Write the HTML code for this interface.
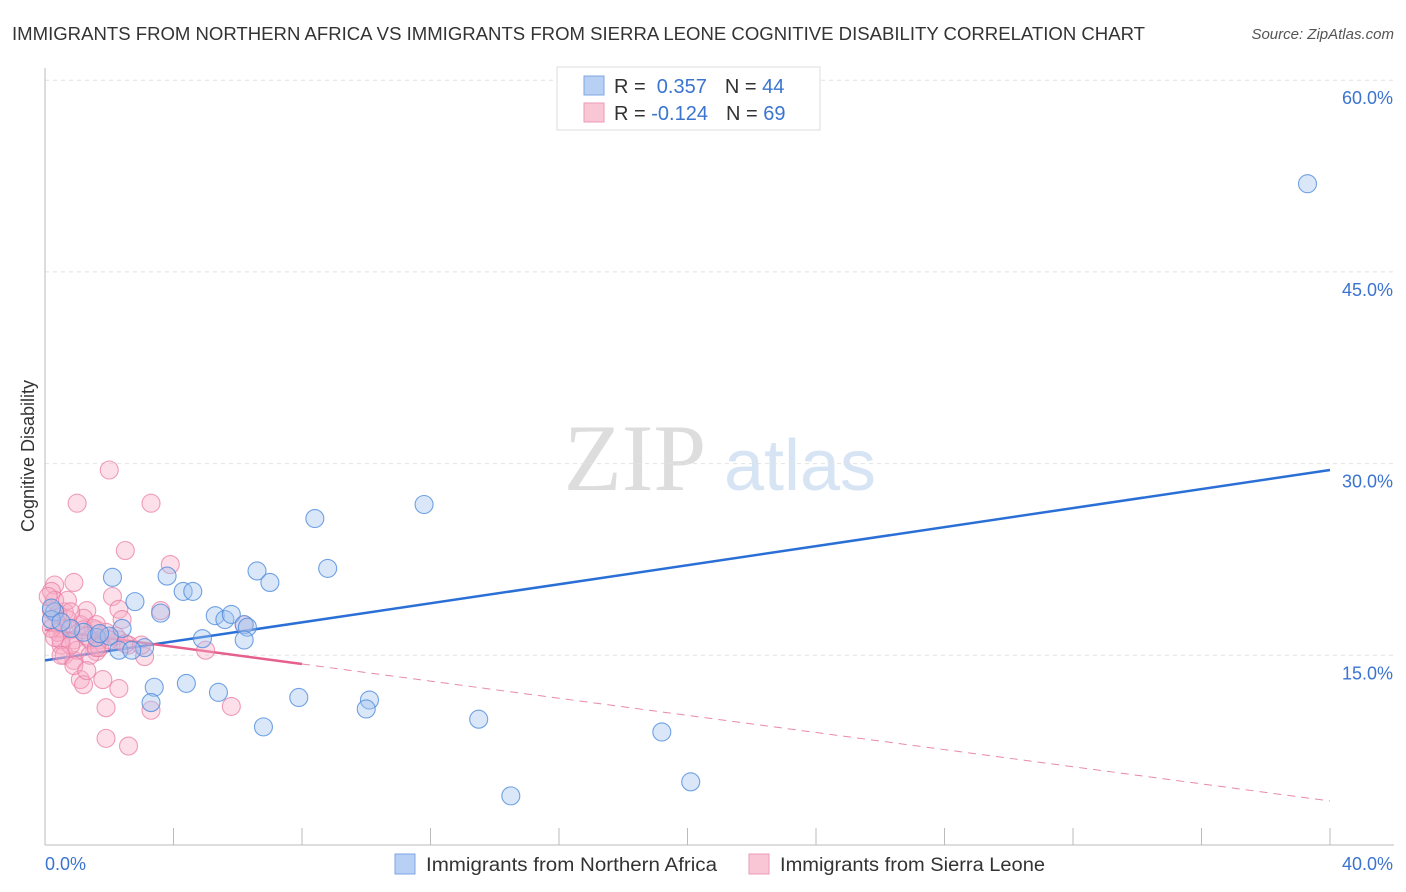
<!DOCTYPE html>
<html><head><meta charset="utf-8"><style>
body{margin:0;background:#fff;font-family:"Liberation Sans",sans-serif;}
</style></head><body>
<svg id="chart" width="1406" height="892" xmlns="http://www.w3.org/2000/svg" style="display:block">
<text x="12" y="40" font-size="18" fill="#333" textLength="1133" lengthAdjust="spacingAndGlyphs">IMMIGRANTS FROM NORTHERN AFRICA VS IMMIGRANTS FROM SIERRA LEONE COGNITIVE DISABILITY CORRELATION CHART</text>
<text x="1394" y="39" font-size="15" fill="#555" font-style="italic" text-anchor="end">Source: ZipAtlas.com</text>
<text transform="translate(34,456) rotate(-90)" font-size="18" fill="#333" text-anchor="middle">Cognitive Disability</text>
<g>
<text x="635" y="490" font-size="95" fill="#ddd" font-family="Liberation Serif,serif" text-anchor="middle">ZIP</text>
<text x="800" y="490" font-size="72" fill="#d6e4f4" text-anchor="middle">atlas</text>
</g>
<g id="grid"></g><g id="axes"></g><g id="trend"></g><g id="pts"></g>
<g>
<rect x="557" y="67" width="263" height="63" fill="#fff" stroke="#ddd"/>
<rect x="584" y="76" width="20" height="19" fill="#b7d0f3" stroke="#7ea6e3"/>
<rect x="584" y="103" width="20" height="19" fill="#f9c6d5" stroke="#ee9ab4"/>
<text x="614" y="93" font-size="20" fill="#333">R = <tspan fill="#3a74d0">&#160;0.357</tspan><tspan dx="18">N = </tspan><tspan fill="#3a74d0">44</tspan></text>
<text x="614" y="120" font-size="20" fill="#333">R = <tspan fill="#3a74d0">-0.124</tspan><tspan dx="18">N = </tspan><tspan fill="#3a74d0">69</tspan></text>
</g>
<g>
<rect x="395" y="854" width="20" height="20" fill="#b7d0f3" stroke="#7ea6e3"/>
<text x="426" y="871" font-size="19" fill="#333" textLength="291" lengthAdjust="spacingAndGlyphs">Immigrants from Northern Africa</text>
<rect x="749" y="854" width="20" height="20" fill="#f9c6d5" stroke="#ee9ab4"/>
<text x="780" y="871" font-size="19" fill="#333" textLength="265" lengthAdjust="spacingAndGlyphs">Immigrants from Sierra Leone</text>
</g>
</svg>
<script>
const yTicks=[15,30,45,60];
const xTickLabels=["0.0%","40.0%"];
const blueX=[39.3,11.8,8.4,8.8,6.6,7.0,2.1,3.8,4.3,4.6,2.8,3.6,5.3,5.6,5.8,6.2,6.3,2.4,4.9,6.2,3.1,2.3,2.7,1.6,1.2,0.8,0.3,0.2,3.4,4.4,5.4,7.9,10.1,10.0,3.3,6.8,13.5,19.2,20.1,14.5,0.2,0.5,2.0,1.7];
const blueY=[51.9,26.8,25.7,21.8,21.6,20.7,21.1,21.2,20.0,20.0,19.2,18.3,18.1,17.8,18.2,17.4,17.2,17.1,16.3,16.2,15.6,15.4,15.4,16.4,16.8,17.1,18.4,17.8,12.5,12.8,12.1,11.7,11.5,10.8,11.3,9.4,10.0,9.0,5.1,4.0,18.7,17.6,16.5,16.7];
const pinkX=[2.0,1.0,3.3,2.5,3.9,0.3,0.9,0.2,2.1,2.3,3.6,1.3,0.6,0.2,0.4,1.1,1.6,0.8,0.5,0.9,1.4,1.7,2.3,2.6,3.1,5.0,0.5,1.6,0.6,0.9,1.1,1.2,1.8,2.3,1.9,3.3,5.8,1.9,2.6,6.2,0.3,0.1,0.2,0.4,0.7,1.2,1.5,1.9,2.2,2.5,3.0,0.5,1.0,1.4,1.7,0.2,0.3,0.7,0.8,1.2,1.6,2.0,0.8,1.3,1.6,2.4,0.5,0.9,1.3];
const pinkY=[29.5,26.9,26.9,23.2,22.1,20.5,20.7,20.0,19.6,18.6,18.5,18.5,18.4,18.5,18.2,17.4,17.0,17.0,17.1,16.2,16.2,16.2,16.2,15.8,14.9,15.4,15.8,15.3,15.0,14.6,13.1,12.7,13.1,12.4,10.9,10.7,11.0,8.5,7.9,17.4,19.3,19.6,17.8,16.8,17.8,17.9,17.1,16.8,16.5,15.9,15.8,16.2,15.4,15.0,15.6,17.1,16.4,19.3,18.4,17.0,17.4,16.2,15.8,16.5,15.6,17.8,15.0,14.2,13.8];
const blueTrend=[14.6,29.5];
const pinkTrend=[17.0,3.6];
const pinkSolidEnd=8;
const NS="http://www.w3.org/2000/svg";
const X0=45,X1=1330,Y0=847,PY=12.78;
const xs=v=>X0+(X1-X0)*v/40, ys=v=>Y0-v*PY;
function mk(tag,attrs,parent){const e=document.createElementNS(NS,tag);for(const k in attrs)e.setAttribute(k,attrs[k]);document.getElementById(parent).appendChild(e);return e;}
yTicks.forEach(t=>{
 const g=mk('line',{x1:45,x2:1394,y1:ys(t),y2:ys(t),stroke:'#e2e2e2','stroke-dasharray':'4,4'},'grid');
 
 
 const l=mk('text',{x:1393,y:ys(t)+24,'font-size':18,fill:'#3a74d0','text-anchor':'end'},'grid');
 l.textContent=t.toFixed(1)+'%';
 
 
});
const ax=mk('line',{x1:45,x2:45,y1:68,y2:845,stroke:'#bbb'},'axes');


const bx=mk('line',{x1:45,x2:1394,y1:845,y2:845,stroke:'#bbb'},'axes');


for(let i=0;i<=10;i++){
 const t=mk('line',{x1:xs(i*4),x2:xs(i*4),y1:828,y2:845,stroke:'#bbb'},'axes');
 
 
}
const xl0=mk('text',{x:45,y:870,'font-size':18,fill:'#3a74d0'},'axes');xl0.textContent=xTickLabels[0];


const xl1=mk('text',{x:1393,y:870,'font-size':18,fill:'#3a74d0','text-anchor':'end'},'axes');xl1.textContent=xTickLabels[1];


function dot(x,y,f,s,name){const c=mk('circle',{cx:xs(x),cy:ys(y),r:9,fill:f,stroke:s,'stroke-width':1.1},'pts');
 
 }
pinkX.forEach((x,i)=>dot(x,pinkY[i],'rgba(246,170,196,0.38)','rgba(232,120,160,0.7)','point-sierra-leone'));
blueX.forEach((x,i)=>dot(x,blueY[i],'rgba(160,196,240,0.4)','rgba(80,140,220,0.8)','point-northern-africa'));
const bt=mk('line',{x1:xs(0),y1:ys(blueTrend[0]),x2:xs(40),y2:ys(blueTrend[1]),stroke:'#2a6fd6','stroke-width':2.5},'trend');


const pe=pinkTrend[0]+(pinkTrend[1]-pinkTrend[0])*pinkSolidEnd/40;
const pt=mk('line',{x1:xs(0),y1:ys(pinkTrend[0]),x2:xs(pinkSolidEnd),y2:ys(pe),stroke:'#e6608c','stroke-width':2.5},'trend');


const pd=mk('line',{x1:xs(pinkSolidEnd),y1:ys(pe),x2:xs(40),y2:ys(pinkTrend[1]),stroke:'#e88aa8','stroke-width':1,'stroke-dasharray':'8,6'},'trend');


</script>
</body></html>
